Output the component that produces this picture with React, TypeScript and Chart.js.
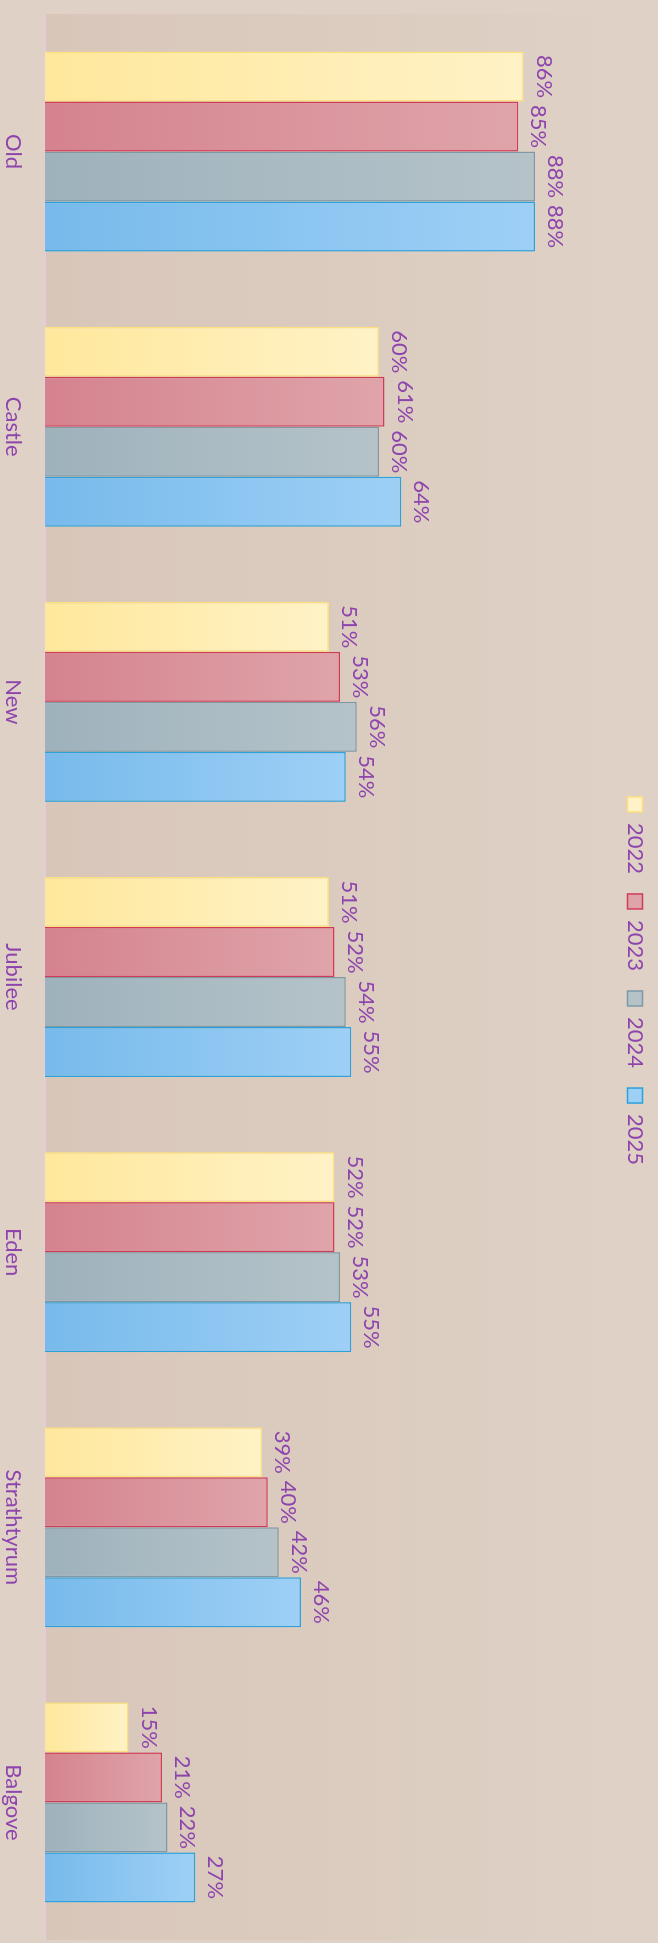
import { useEffect, useRef } from "react";
import { Chart, registerables } from "chart.js";

Chart.register(...registerables);

// ---- data ----
const categories = ["Old", "Castle", "New", "Jubilee", "Eden", "Strathtyrum", "Balgove"];
const seriesNames = ["2022", "2023", "2024", "2025"];
const values2022 = [86, 60, 51, 51, 52, 39, 15];
const values2023 = [85, 61, 53, 52, 52, 40, 21];
const values2024 = [88, 60, 56, 54, 53, 42, 22];
const values2025 = [88, 64, 54, 55, 55, 46, 27];

// ---- styles ----
const FONT = "Lato, 'Noto Sans', sans-serif";
const TEXT = "#8e44ad";
const PAGE_BG = "#dfd1c6";
const PLOT_BG_START = "#d8c6b9";
const W = 1943;
const H = 658;

const palette = [
  { c0: "#ffe89c", c1: "#fff2c6", mid: "#ffedb2", border: "#fde07e" },
  { c0: "#d5838e", c1: "#dfa4aa", mid: "#da939c", border: "#d03c58" },
  { c0: "#9eb2bc", c1: "#b5c3c9", mid: "#a9bac2", border: "#7d99a7" },
  { c0: "#77baeb", c1: "#9ed0f6", mid: "#8ac5f0", border: "#2aa2dd" },
];

function barGradient(c0: string, c1: string, mid: string) {
  return (ctx: any) => {
    const chart = ctx.chart;
    const area = chart.chartArea;
    if (!area || ctx.type !== "data") return mid;
    const ys = chart.scales.y;
    const top = ys.getPixelForValue(ctx.raw as number);
    const base = ys.getPixelForValue(0);
    if (!isFinite(top) || !isFinite(base) || top === base) return mid;
    const g = chart.ctx.createLinearGradient(0, base, 0, top);
    g.addColorStop(0, c0);
    g.addColorStop(1, c1);
    return g;
  };
}

const plotBgPlugin = {
  id: "plotBg",
  beforeDraw(chart: any) {
    const { ctx, chartArea: a } = chart;
    if (!a) return;
    const g = ctx.createLinearGradient(0, a.bottom, 0, a.top);
    g.addColorStop(0, PLOT_BG_START);
    g.addColorStop(1, PAGE_BG);
    ctx.save();
    ctx.fillStyle = g;
    ctx.fillRect(a.left, a.top, a.right - a.left, a.bottom - a.top);
    ctx.restore();
  },
};

const legendShiftPlugin = {
  id: "legendShift",
  afterLayout(chart: any) {
    if (chart.legend) {
      chart.legend.left += 4;
      chart.legend.right += 4;
    }
  },
};

const valueLabelPlugin = {
  id: "valueLabels",
  afterDatasetsDraw(chart: any) {
    const { ctx } = chart;
    ctx.save();
    ctx.font = `22px ${FONT}`;
    ctx.fillStyle = TEXT;
    ctx.textAlign = "center";
    ctx.textBaseline = "alphabetic";
    chart.data.datasets.forEach((ds: any, di: number) => {
      const meta = chart.getDatasetMeta(di);
      meta.data.forEach((bar: any, i: number) => {
        const v = ds.data[i];
        ctx.fillText(`${v}%`, bar.x, bar.y - 13);
      });
    });
    ctx.restore();
  },
};

export default function App() {
  const canvasRef = useRef<HTMLCanvasElement | null>(null);

  useEffect(() => {
    const canvas = canvasRef.current;
    if (!canvas) return;
    const seriesValues = [values2022, values2023, values2024, values2025];
    const chart = new Chart(canvas, {
      type: "bar",
      data: {
        labels: categories,
        datasets: seriesNames.map((name, i) => ({
          label: name,
          data: seriesValues[i],
          backgroundColor: barGradient(palette[i].c0, palette[i].c1, palette[i].mid),
          borderColor: palette[i].border,
          borderWidth: 1.5,
          categoryPercentage: 0.727,
          barPercentage: 1.0,
        })),
      },
      options: {
        responsive: false,
        animation: false,
        devicePixelRatio: 1,
        layout: { padding: { left: 14, right: 3, top: -8, bottom: -18.6 } },
        plugins: {
          legend: {
            position: "top",
            labels: {
              boxWidth: 15,
              boxHeight: 15,
              padding: 20,
              color: TEXT,
              font: { family: FONT, size: 22 },
            },
          },
          tooltip: { enabled: false },
        },
        scales: {
          x: {
            grid: { display: false, drawTicks: false },
            border: { display: true, color: "#e3cdd8", width: 2 },
            ticks: { color: TEXT, font: { family: FONT, size: 22 }, padding: 18.6 },
          },
          y: { display: false, min: 0, max: 102.2 },
        },
      },
      plugins: [plotBgPlugin, legendShiftPlugin, valueLabelPlugin],
    });
    return () => chart.destroy();
  }, []);

  return (
    <div
      style={{
        position: "absolute",
        left: 0,
        top: 0,
        width: H,
        height: W,
        background: PAGE_BG,
        overflow: "hidden",
      }}
    >
      <div
        style={{
          position: "absolute",
          left: 0,
          top: 0,
          width: W,
          height: H,
          transformOrigin: "0 0",
          transform: `translate(${H}px, 0px) rotate(90deg)`,
        }}
      >
        <canvas ref={canvasRef} width={W} height={H} style={{ width: W, height: H, display: "block" }} />
      </div>
    </div>
  );
}
